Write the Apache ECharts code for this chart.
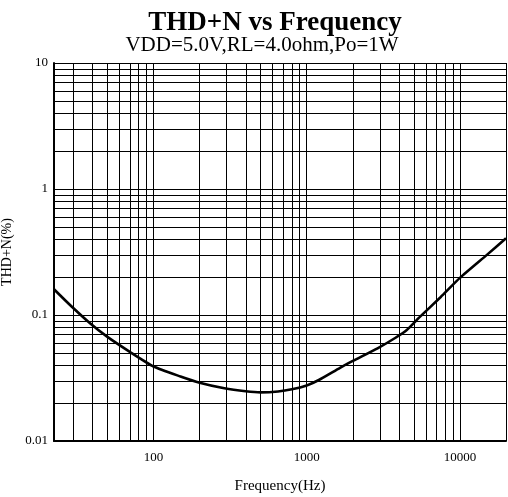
<!DOCTYPE html>
<html><head><meta charset="utf-8">
<script src="https://cdn.jsdelivr.net/npm/echarts@6/dist/echarts.min.js"></script>
<style>html,body{margin:0;padding:0;background:#fff}#c{width:508px;height:497px}</style>
</head><body><div id="c"></div>
<script>
const freq = [22.4, 28.5, 38.5, 50, 70, 100, 150, 200, 290, 400, 500, 650, 800, 1000, 1200, 1650, 2000, 2900, 3800, 4500, 5500, 7500, 10000, 15000, 20000];
const thdn = [0.16, 0.12, 0.086, 0.067, 0.051, 0.039, 0.0325, 0.029, 0.0262, 0.0248, 0.0243, 0.0247, 0.0257, 0.0276, 0.0305, 0.0381, 0.0432, 0.0544, 0.066, 0.076, 0.097, 0.139, 0.197, 0.30, 0.406];
const xGrid = [30,40,50,60,70,80,90,100,200,300,400,500,600,700,800,900,1000,2000,3000,4000,5000,6000,7000,8000,9000,10000,20000];
const yGrid = [0.02,0.03,0.04,0.05,0.06,0.07,0.08,0.09,0.1,0.2,0.3,0.4,0.5,0.6,0.7,0.8,0.9,1,2,3,4,5,6,7,8,9,10];
const xLabels = [100, 1000, 10000];
const yLabels = [0.01, 0.1, 1, 10];
const titleText = 'THD+N vs Frequency';
const subText = 'VDD=5.0V,RL=4.0ohm,Po=1W';
const FONT = '"Liberation Serif","Times New Roman",serif';

const chart = echarts.init(document.getElementById('c'), null, {renderer: 'canvas'});
const gridLine = {color: '#000', width: 1, type: 'solid'};
chart.setOption({
  animation: false,
  title: [
    {text: titleText, left: 270, top: 5, textAlign: 'center',
     textStyle: {fontFamily: FONT, fontWeight: 'bold', fontSize: 27, color: '#000'}},
    {text: subText, left: 257, top: 30, textAlign: 'center',
     textStyle: {fontFamily: FONT, fontWeight: 'normal', fontSize: 21, color: '#000'}}
  ],
  grid: {left: 54, right: 2, top: 63, bottom: 56, containLabel: false, outerBoundsMode: 'none'},
  xAxis: {
    type: 'log', min: 22.4, max: 20000, logBase: 10,
    name: 'Frequency(Hz)', nameLocation: 'middle', nameGap: 38,
    nameTextStyle: {fontFamily: FONT, fontSize: 15, color: '#000'},
    axisLine: {show: true, lineStyle: {color: '#000', width: 2}},
    axisTick: {show: false},
    splitLine: {show: false},
    axisLabel: {fontFamily: FONT, fontSize: 13, color: '#000', margin: 10,
      showMinLabel: false, showMaxLabel: false,
      formatter: v => xLabels.some(l => Math.abs(l - v) / l < 1e-6) ? String(Math.round(v)) : ''}
  },
  yAxis: {
    type: 'log', min: 0.01, max: 10, logBase: 10,
    name: 'THD+N(%)', nameLocation: 'middle', nameGap: 37, nameRotate: 90,
    nameTextStyle: {fontFamily: FONT, fontSize: 14, color: '#000'},
    axisLine: {show: true, lineStyle: {color: '#000', width: 2}},
    axisTick: {show: false},
    splitLine: {show: false},
    axisLabel: {fontFamily: FONT, fontSize: 13, color: '#000', margin: 6,
      formatter: v => { const l = yLabels.find(l => Math.abs(l - v) / l < 1e-6); return l === undefined ? '' : String(l); }}
  },
  series: [
    {type: 'line', data: [], silent: true,
     markLine: {silent: true, symbol: 'none', animation: false, label: {show: false},
       lineStyle: gridLine,
       data: xGrid.map(v => ({xAxis: v})).concat(yGrid.map(v => ({yAxis: v})))}},
    {type: 'line', data: freq.map((f, i) => [f, thdn[i]]), showSymbol: false, smooth: 0.2,
     lineStyle: {color: '#000', width: 2.6}, z: 5}
  ]
});
</script></body></html>
